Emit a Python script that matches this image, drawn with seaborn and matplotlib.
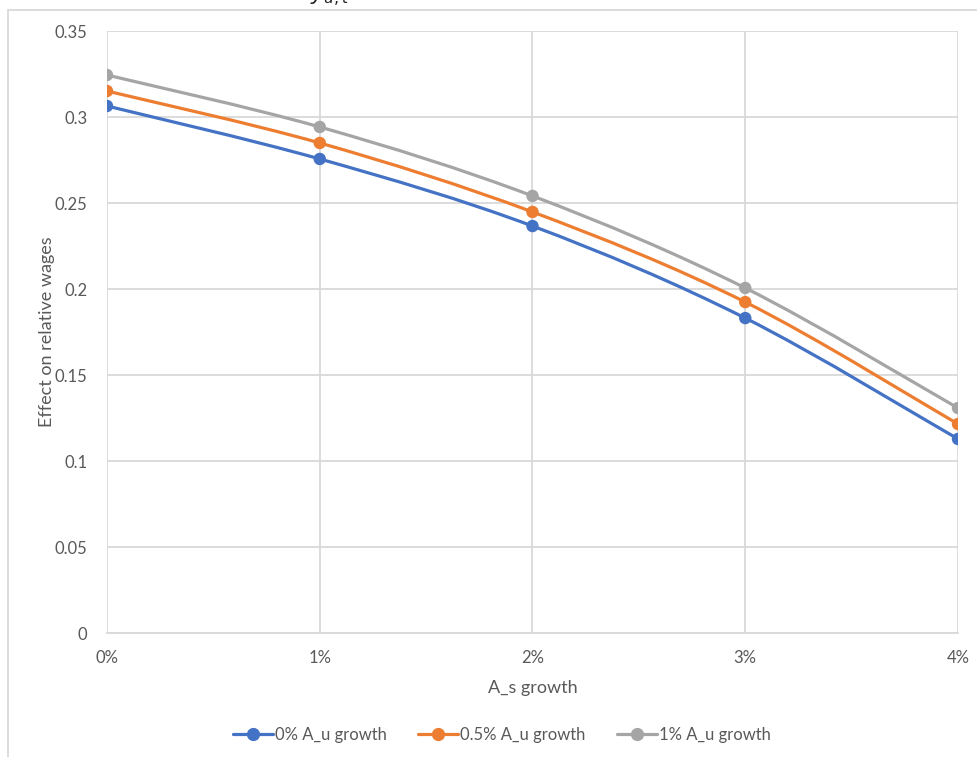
import numpy as np
import pandas as pd
import matplotlib
matplotlib.use("Agg")
import matplotlib.pyplot as plt
import seaborn as sns
from matplotlib.path import Path
from matplotlib.patches import PathPatch, Rectangle
from matplotlib.lines import Line2D

x_vals = [0, 1, 2, 3, 4]
x_labels = ["0%", "1%", "2%", "3%", "4%"]
series_names = ["0% A_u growth", "0.5% A_u growth", "1% A_u growth"]
s0 = [0.3064, 0.2756, 0.2366, 0.1831, 0.1128]
s05 = [0.3151, 0.2849, 0.2448, 0.1924, 0.1215]
s1 = [0.3244, 0.2942, 0.2541, 0.2006, 0.1308]
colors = ["#4472C4", "#ED7D31", "#A5A5A5"]

sns.set_theme(style="white")
plt.rcParams["font.family"] = ["Lato", "DejaVu Sans"]

fig = plt.figure(figsize=(9.78, 7.57), dpi=100)
ax = fig.add_axes([107/978, 1-633/757, (958-107)/978, (633-31)/757])

df = pd.DataFrame({
    "x": x_vals * 3,
    "y": s0 + s05 + s1,
    "series": sum([[n] * 5 for n in series_names], []),
})

def smooth_path(xs, ys):
    xs = np.asarray(xs, float); ys = np.asarray(ys, float)
    pts = np.column_stack([xs, ys])
    n = len(pts)
    verts = [pts[0]]; codes = [Path.MOVETO]
    for i in range(n - 1):
        p0 = pts[i - 1] if i > 0 else pts[i]
        p1 = pts[i]; p2 = pts[i + 1]
        p3 = pts[i + 2] if i + 2 < n else pts[i + 1]
        c1 = p1 + (p2 - p0) / 6.0
        c2 = p2 - (p3 - p1) / 6.0
        verts += [c1, c2, p2]
        codes += [Path.CURVE4] * 3
    return Path(verts, codes)

for name, col in zip(series_names, colors):
    sub = df[df.series == name]
    ax.add_patch(PathPatch(smooth_path(sub.x, sub.y), facecolor="none",
                           edgecolor=col, lw=2.3, zorder=3, capstyle="round"))

sns.scatterplot(data=df, x="x", y="y", hue="series", palette=colors,
                s=80, edgecolor="none", legend=False, ax=ax, zorder=4)

ax.set_xlim(0, 4)
ax.set_ylim(0, 0.35)
ax.set_xticks(x_vals)
ax.set_xticklabels(x_labels)
ax.set_yticks([0, 0.05, 0.1, 0.15, 0.2, 0.25, 0.3, 0.35])
ax.set_yticklabels(["0", "0.05", "0.1", "0.15", "0.2", "0.25", "0.3", "0.35"])
ax.grid(True, color="#D9D9D9", lw=1.3)
ax.set_axisbelow(True)
for sp in ["top", "right", "left"]:
    ax.spines[sp].set_visible(False)
ax.spines["bottom"].set_color("#D9D9D9")
ax.spines["bottom"].set_linewidth(1.3)
ax.tick_params(axis="both", length=0, labelsize=12, labelcolor="#595959")
ax.tick_params(axis="x", pad=12.5)
ax.tick_params(axis="y", pad=14)
ax.set_xlabel("A_s growth", fontsize=13, color="#595959", labelpad=9.5)
ax.set_ylabel("Effect on relative wages", fontsize=13, color="#595959", labelpad=0)

handles = [Line2D([0], [0], color=c, lw=2.3, marker="o", markersize=8.5)
           for c in colors]
fig.legend(handles, series_names, loc="center", bbox_to_anchor=(502/978, 1-735/757),
           ncol=3, frameon=False, fontsize=12, labelcolor="#595959",
           handlelength=2.4, handletextpad=0.1, columnspacing=1.9)

fig.patches.append(Rectangle((8/978, -0.05), 1.2, 1 - 10/757 + 0.05,
                             transform=fig.transFigure, facecolor="none",
                             edgecolor="#D9D9D9", lw=1.3))
fig.text(330/978, 1.003, r"$y_{u,t}$", fontsize=16, ha="center", va="center",
         color="#222222")

fig.savefig("out.png", dpi=100)
